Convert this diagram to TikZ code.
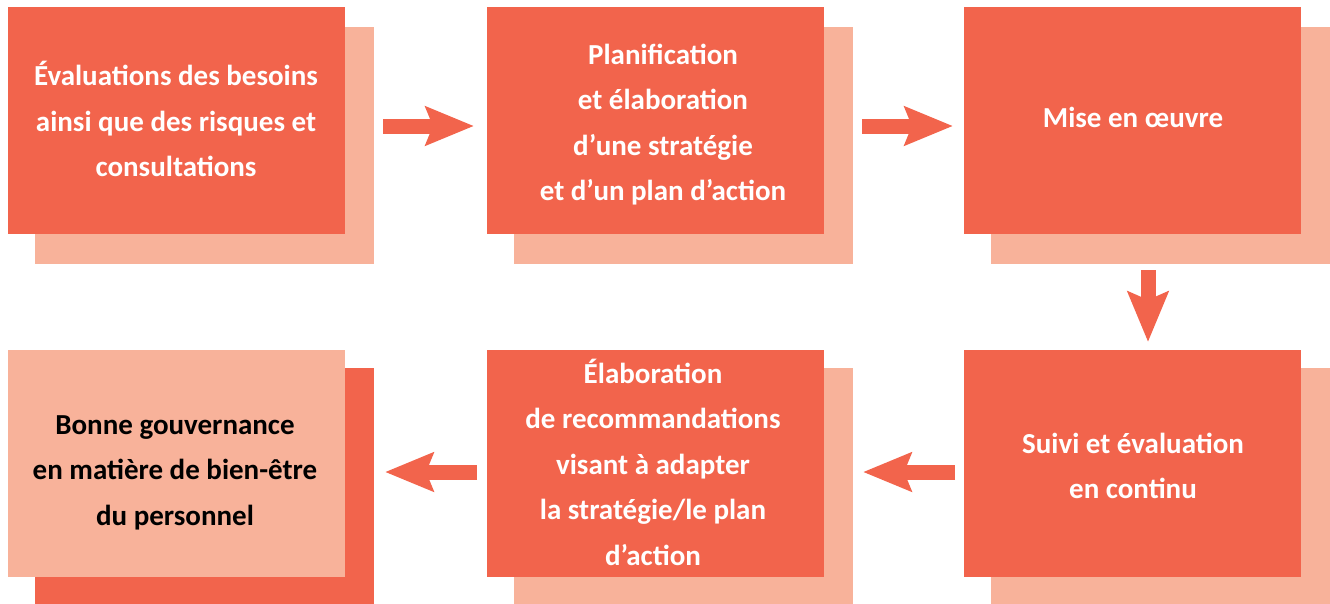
\documentclass[tikz,border=0pt]{standalone}
\usepackage{fontspec}
\setmainfont{Carlito}
\usetikzlibrary{arrows.meta}
\definecolor{coral}{HTML}{F2644C}
\definecolor{salmon}{HTML}{F8B29A}
\tikzset{
  panel/.style={rectangle, inner sep=0pt, outer sep=0pt, anchor=north west},
  front/.style={panel, fill=coral, minimum width=337pt, minimum height=227pt},
  back/.style={panel, fill=salmon, minimum width=339pt, minimum height=237pt},
  label/.style={align=center, inner sep=0pt, text=white,
    font=\fontsize{29}{45.5}\selectfont\bfseries},
  flow/.style={draw=coral, line width=15pt,
    -{Stealth[length=48pt, width=38pt, inset=7pt]}},
  flowdown/.style={draw=coral, line width=15pt,
    -{Stealth[length=50pt, width=40pt, inset=8pt]}},
}
\begin{document}
\begin{tikzpicture}[x=1pt, y=-1pt]
\useasboundingbox (0,0) rectangle (1330,603);

% shadow panels behind each step
\node[back] (s1) at (35,27) {};
\node[back] (s2) at (514,27) {};
\node[back] (s3) at (991,27) {};
\node[back, fill=coral] (s4) at (35,368) {};
\node[back] (s5) at (514,368) {};
\node[back] (s6) at (991,368) {};

% main step panels
\node[front] (b1) at (8,7) {};
\node[front] (b2) at (487,7) {};
\node[front] (b3) at (964,7) {};
\node[front, fill=salmon] (b4) at (8,350) {};
\node[front] (b5) at (487,350) {};
\node[front] (b6) at (964,350) {};

% step texts
\node[label] (t1) at (176,119) {Évaluations des besoins\\ainsi que des risques et\\consultations};
\node[label] (t2) at (663,124.5) {Planification\\et élaboration\\d’une stratégie\\et d’un plan d’action};
\node[label] (t3) at (1133,117) {Mise en œuvre};
\node[label, text=black] (t4) at (175,472.5) {Bonne gouvernance\\en matière de bien-être\\du personnel};
\node[label] (t5) at (653,462) {Élaboration\\de recommandations\\visant à adapter\\la stratégie/le plan\\d’action};
\node[label] (t6) at (1133,466) {Suivi et évaluation\\en continu};

% arrow ends between the panels
\coordinate (a1s) at (383,126);  \coordinate (a1e) at (474,126);
\coordinate (a2s) at (862,126);  \coordinate (a2e) at (953,126);
\coordinate (a3s) at (1148,270); \coordinate (a3e) at (1148,342);
\coordinate (a4s) at (955,472);  \coordinate (a4e) at (863,472);
\coordinate (a5s) at (477,472);  \coordinate (a5e) at (385,472);

\draw[flow] (a1s) -- (a1e);
\draw[flow] (a2s) -- (a2e);
\draw[flowdown] (a3s) -- (a3e);
\draw[flow] (a4s) -- (a4e);
\draw[flow] (a5s) -- (a5e);
\end{tikzpicture}
\end{document}
